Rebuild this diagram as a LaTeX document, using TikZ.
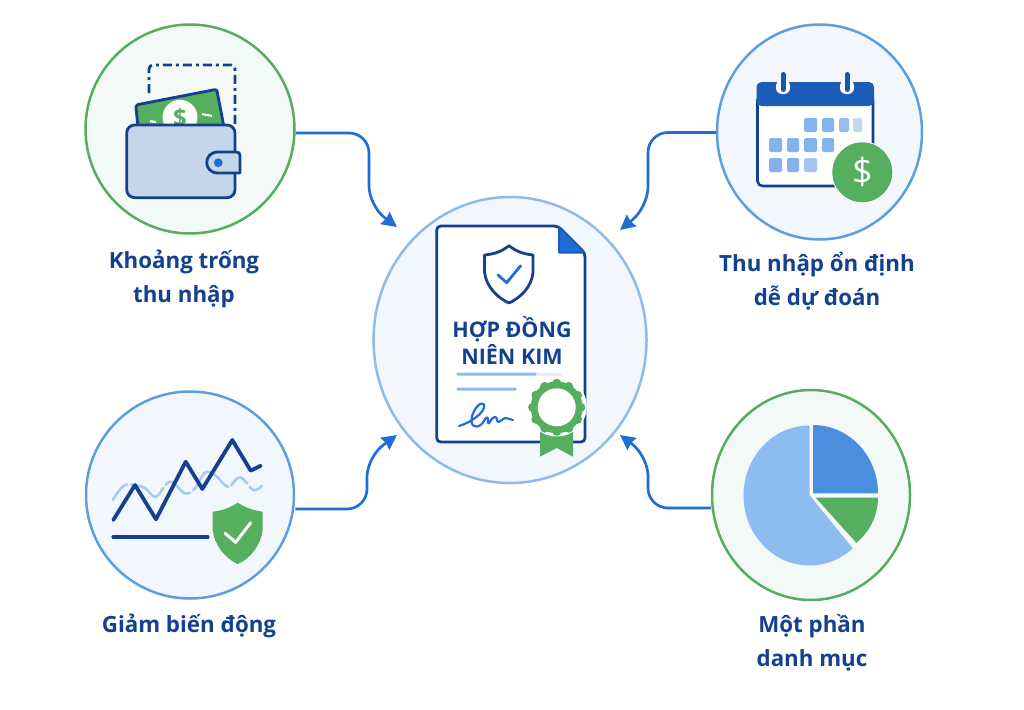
\documentclass[tikz,border=0pt]{standalone}
\usepackage{fontspec}
\setmainfont{Open Sans}
\usetikzlibrary{arrows.meta,calc,shapes.geometric}
\definecolor{navy}{HTML}{14418F}
\definecolor{midblue}{HTML}{1F6DD6}
\definecolor{hdr}{HTML}{1C5CB8}
\definecolor{ringblue}{HTML}{5C9FE0}
\definecolor{ringlight}{HTML}{8DBBEC}
\definecolor{ringgreen}{HTML}{55AD5E}
\definecolor{fillblue}{HTML}{F2F7FD}
\definecolor{fillgreen}{HTML}{F3F9F6}
\definecolor{wallet}{HTML}{C5D5EA}
\definecolor{gr}{HTML}{56AE5F}
\definecolor{sq}{HTML}{85B2EC}
\definecolor{pieA}{HTML}{8FBCF0}
\definecolor{pieB}{HTML}{4A8EE0}
\definecolor{wave}{HTML}{A9CBF2}
\tikzset{
 x=1pt,y=-1pt,
 ringnode/.style={ellipse,inner sep=0pt,line width=2.5pt},
 conn/.style={draw=midblue,line width=2.7pt,rounded corners=20pt,-{Stealth[length=15pt,width=15pt,inset=1.5pt]}},
 lab/.style={font=\fontsize{22.3}{34}\selectfont\bfseries,text=navy,align=center,inner sep=0pt},
 navyline/.style={draw=navy,line width=2.8pt,line join=round,line cap=round},
 sqbox/.style={fill=sq,rounded corners=1.5pt}
}
\begin{document}
\begin{tikzpicture}
\useasboundingbox (0,0) rectangle (1024,709);
\fill[white] (0,0) rectangle (1024,709);
\node[ringnode,draw=ringgreen,fill=fillgreen,minimum width=209pt,minimum height=209pt] (wal) at (190,129) {};
\node[ringnode,draw=ringblue,fill=fillblue,minimum width=205pt,minimum height=215pt] (cal) at (819.5,132) {};
\node[ringnode,draw=ringblue,fill=fillblue,minimum width=208pt,minimum height=207pt] (vol) at (190,495) {};
\node[ringnode,draw=ringgreen,fill=fillgreen,minimum width=198pt,minimum height=210pt] (pie) at (811,495) {};
\node[ringnode,draw=ringlight,fill=fillblue,minimum width=273pt,minimum height=286pt] (ctr) at (510,340) {};
\coordinate (a1) at (397,227);
\coordinate (a2) at (620,230);
\coordinate (a3) at (397,435);
\coordinate (a4) at (620,435);
\draw[conn] (wal.east |- 0,133) -- (369,133) -- (369,206) -- (a1);
\draw[conn] (cal.west |- 0,132.5) -- (648,132.5) -- (648,207) -- (a2);
\draw[conn] (vol.east |- 0,509) -- (367,509) -- (367,457) -- (a3);
\draw[conn] (pie.west |- 0,508) -- (648,508) -- (648,456) -- (a4);
% wallet
\draw[navy,line width=2.8pt,dash pattern=on 9pt off 4pt on 3pt off 4pt,rounded corners=4pt] (149,93) -- (149,65) -- (235,65) -- (235,126);
\draw[navyline,fill=gr,rounded corners=2pt] (138,127) -- (135.7,105) -- (216.7,89.3) -- (224,127) -- cycle;
\fill[white] (180,117.3) circle (17.5pt);
\node[font=\fontsize{24}{24}\selectfont\bfseries,text=gr,inner sep=0pt] (dol1) at (180,118) {\$};
\fill[white,rotate around={-10:(153,121.7)}] (150,120.5) rectangle (156,122.9);
\fill[white,rotate around={-10:(207,115)}] (202,114) rectangle (212,116);
\draw[navyline,fill=wallet,rounded corners=8pt] (126.7,125) rectangle (235,197.7);
\draw[navyline,fill=wallet] (240,156) -- (240,173) -- (218,173) .. controls (203,173) and (203,152) .. (218,152) -- (236,152) .. controls (239,152) and (240,153) .. (240,156) -- cycle;
\fill[midblue] (218.3,162.7) circle (4.4pt);
% calendar
\draw[draw=navy,line width=2.6pt,fill=white,rounded corners=5pt] (757.5,95) rectangle (873,186);
\fill[hdr,rounded corners=5pt] (756.5,106) -- (756.5,82) -- (874,82) -- (874,106) -- cycle;
\foreach \x in {783,847}{
 \fill[white,rounded corners=6pt] (\x-7,80) rectangle (\x+7,94);
 \draw[hdr!80!navy,line width=5pt,line cap=round] (\x,74.5) -- (\x,89.5);
}
\foreach \x/\y/\w/\o in {804/118/13/1,822/118/12/1,839/118/10/.85,853/118/9/.5,769/138/13/1,787/138/12/1,804/138/13/1,822/138/12/1,769/158/13/1,787/158/12/1,804/158/13/.75}{
 \fill[sq,opacity=\o,rounded corners=1.5pt] (\x,\y) rectangle +(\w,14);}
\fill[white] (862.3,172.3) circle (31pt);
\fill[gr] (862.3,172.3) circle (30pt);
\node[font=\fontsize{36}{36}\selectfont,text=white,inner sep=0pt] (dol2) at (862.3,172.3) {\$};
% document
\draw[navyline,fill=white,rounded corners=4pt] (436.7,226) -- (558,226) -- (585,253) -- (585,442) -- (436.7,442) -- cycle;
\draw[draw=hdr,fill=midblue,line width=2pt,line join=round] (559,227) -- (584,252.5) -- (559,252.5) -- cycle;
\draw[navyline] (509,245.7) .. controls (501,252) and (494,254) .. (484.5,255) -- (484.5,272) .. controls (486,287) and (498,298) .. (509,303) .. controls (520,298) and (532,287) .. (533,272) -- (533,255) .. controls (524,254) and (517,252) .. (509,245.7) -- cycle;
\draw[midblue,line width=2.8pt,line cap=round,line join=round] (498,275) -- (506.7,282.7) -- (520.7,265.7);
\node[font=\fontsize{21.5}{27.5}\selectfont\bfseries,text=navy,align=center,inner sep=0pt] (ttl) at (512,340.5) {HỢP ĐỒNG\\NIÊN KIM};
\fill[pieA,rounded corners=1pt] (456.7,372.5) rectangle (536.7,375.5);
\fill[pieA!25] (536.7,372.5) rectangle (561.7,375.5);
\fill[pieA,rounded corners=1pt] (456.7,387.5) rectangle (516.7,390.5);
\draw[midblue,line width=2.2pt,line cap=round,line join=round] (459,426) .. controls (470,423) and (486,412) .. (484,405) .. controls (481,399) and (471,412) .. (471.5,421) .. controls (472,429) and (480,428) .. (484,421) .. controls (486,417) and (488,416) .. (488,420) .. controls (488,424) and (488,425) .. (491,420) .. controls (494,416) and (497,416) .. (497,420) .. controls (497,423) and (500,422) .. (503,419) .. controls (505,417) and (509,419) .. (513,420);
\fill[gr] (540,428) -- (573,428) -- (573,456.7) -- (556.7,448) -- (540,456.7) -- cycle;
\fill[white] (556.7,406.5) circle (30pt);
\foreach \a in {0,30,...,330}{\fill[gr] (556.7,407.3)++(\a:24pt) circle (4.6pt);}
\fill[gr] (556.7,407.3) circle (26pt);
\fill[white] (556.7,407.3) circle (19pt);
% volatility
\draw[wave,line width=2.6pt,line cap=round,dash pattern=on 22pt off 4pt on 40pt off 4pt on 30pt off 4pt on 50pt off 3pt] plot[smooth,tension=.6] coordinates {(112.7,500) (123.3,486) (133.3,485) (145,488) (156,496.7) (170,481.7) (185,493.3) (195,488.3) (205,472.7) (215,475) (228,486.7) (240,477.3) (253.3,490) (261.7,486)};
\draw[navyline,line width=3.8pt] (113.3,520) -- (135,485) -- (156,519.3) -- (185.7,461.7) -- (202.3,489) -- (232.3,440) -- (250.7,470.7) -- (260.7,465.7);
\draw[navy,line width=3.2pt,line cap=round] (113,537) -- (208,537);
\fill[gr] (237.7,502.7) .. controls (230,508) and (222,510.5) .. (212.7,511.7) -- (212.7,530) .. controls (214,545) and (226,559) .. (237.7,564) .. controls (250,559) and (261,545) .. (262.7,530) -- (262.7,511.7) .. controls (254,510.5) and (246,508) .. (237.7,502.7) -- cycle;
\draw[white,line width=3pt,line cap=round,line join=round] (225,533.3) -- (235.7,542.3) -- (250.7,522.7);
% pie
\fill[pieA] (809.5,495) -- (809.5,425.5) arc[start angle=-90,end angle=-311,x radius=66,y radius=70] -- cycle;
\fill[pieB] (813,493.3) -- (813,425) arc[start angle=-90,end angle=0,x radius=65,y radius=68.3] -- cycle;
\fill[gr] (815.5,497.5) -- (878,497.5) arc[start angle=0,end angle=49,x radius=63,y radius=60] -- cycle;
% labels
\node[lab] (t1) at (184,279) {Khoảng trống\\thu nhập};
\node[lab] (t2) at (817,281) {Thu nhập ổn định\\dễ dự đoán};
\node[lab] (t3) at (189,626) {Giảm biến động};
\node[lab] (t4) at (812,643) {Một phần\\danh mục};
\end{tikzpicture}
\end{document}
